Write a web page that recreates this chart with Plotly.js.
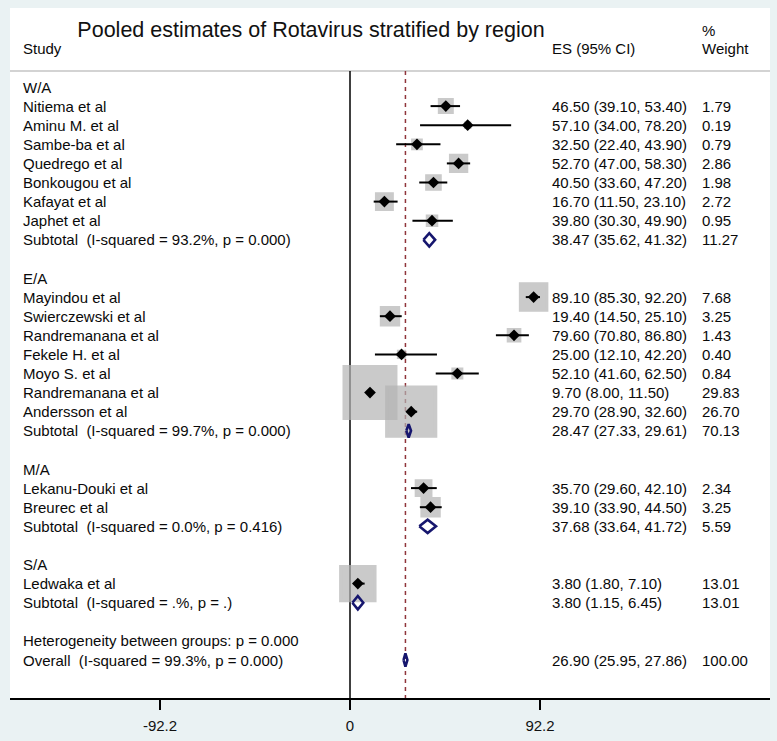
<!DOCTYPE html>
<html><head><meta charset="utf-8">
<script src="https://cdn.plot.ly/plotly-3.0.1.min.js"></script>
<style>html,body{margin:0;padding:0;background:#eaf2f3}</style>
</head><body><div id="chart" style="width:777px;height:741px"></div>
<script>
// ---------------- data ----------------
const regions = ['W/A', 'E/A', 'M/A', 'S/A'];
const studies = ['Nitiema et al', 'Aminu M. et al', 'Sambe-ba et al', 'Quedrego et al', 'Bonkougou et al', 'Kafayat et al', 'Japhet et al',
  'Mayindou et al', 'Swierczewski et al', 'Randremanana et al', 'Fekele H. et al', 'Moyo S. et al', 'Randremanana et al', 'Andersson et al',
  'Lekanu-Douki et al', 'Breurec et al',
  'Ledwaka et al'];
const studyRegion = ['W/A', 'W/A', 'W/A', 'W/A', 'W/A', 'W/A', 'W/A',
  'E/A', 'E/A', 'E/A', 'E/A', 'E/A', 'E/A', 'E/A',
  'M/A', 'M/A',
  'S/A'];
const es = [46.50, 57.10, 32.50, 52.70, 40.50, 16.70, 39.80,
  89.10, 19.40, 79.60, 25.00, 52.10, 9.70, 29.70,
  35.70, 39.10,
  3.80];
const ciLow = [39.10, 34.00, 22.40, 47.00, 33.60, 11.50, 30.30,
  85.30, 14.50, 70.80, 12.10, 41.60, 8.00, 28.90,
  29.60, 33.90,
  1.80];
const ciHigh = [53.40, 78.20, 43.90, 58.30, 47.20, 23.10, 49.90,
  92.20, 25.10, 86.80, 42.20, 62.50, 11.50, 32.60,
  42.10, 44.50,
  7.10];
const weights = [1.79, 0.19, 0.79, 2.86, 1.98, 2.72, 0.95,
  7.68, 3.25, 1.43, 0.40, 0.84, 29.83, 26.70,
  2.34, 3.25,
  13.01];
const subI2 = ['93.2%', '99.7%', '0.0%', '.%'];
const subP = ['0.000', '0.000', '0.416', '.'];
const subEs = [38.47, 28.47, 37.68, 3.80];
const subLow = [35.62, 27.33, 33.64, 1.15];
const subHigh = [41.32, 29.61, 41.72, 6.45];
const subWeight = [11.27, 70.13, 5.59, 13.01];
const hetP = '0.000';
const overallI2 = '99.3%';
const overallP = '0.000';
const overallEs = 26.90;
const overallLow = 25.95;
const overallHigh = 27.86;
const overallWeight = 100.00;
const tickVals = [-92.2, 0, 92.2];
const tickText = ['-92.2', '0', '92.2'];
const titleText = 'Pooled estimates of Rotavirus stratified by region';

// ---------------- layout helpers ----------------
const FONT = 'Liberation Sans, Arial, sans-serif';
const FS = 15;
const W = 777, H = 741;
const ML = 10, MR = 7, MT = 8, MB = 43;
const plotW = W - ML - MR;
const px2paper = p => (p - ML) / plotW;
const ROW0 = 87, ROWH = 19.1;
const pyToRow = p => (p - ROW0) / ROWH;
const xScale = 2.0607, x0px = 350;
const xRange = [(ML - x0px) / xScale, (W - MR - x0px) / xScale];
const yRange = [pyToRow(H - MB), pyToRow(MT)];
const headerRow = pyToRow(71);
const colLabel = px2paper(21), colES = px2paper(550), colW = px2paper(700);

const fmt = v => v.toFixed(2);
const esText = (e, l, h) => fmt(e) + ' (' + fmt(l) + ', ' + fmt(h) + ')';
const NB = '\u00a0';

// assign rows
const annotations = [];
const txt = (x, y, t) => annotations.push({xref: 'paper', yref: 'y', x: x, y: y, text: t, showarrow: false,
  xanchor: 'left', yanchor: 'middle', font: {family: FONT, size: FS, color: '#0a0a0a'}});

const studyRow = new Array(studies.length);
const subRow = [];
let r = 0;
regions.forEach((reg, gi) => {
  txt(colLabel, r, reg);
  r++;
  studies.forEach((s, i) => {
    if (studyRegion[i] === reg) {
      studyRow[i] = r;
      txt(colLabel, r, s);
      txt(colES, r, esText(es[i], ciLow[i], ciHigh[i]));
      txt(colW, r, fmt(weights[i]));
      r++;
    }
  });
  subRow.push(r);
  txt(colLabel, r, 'Subtotal' + NB + ' (I-squared = ' + subI2[gi] + ', p = ' + subP[gi] + ')');
  txt(colES, r, esText(subEs[gi], subLow[gi], subHigh[gi]));
  txt(colW, r, fmt(subWeight[gi]));
  r += 2;
});
txt(colLabel, r, 'Heterogeneity between groups: p = ' + hetP);
const overallRow = r + 1;
txt(colLabel, overallRow, 'Overall' + NB + ' (I-squared = ' + overallI2 + ', p = ' + overallP + ')');
txt(colES, overallRow, esText(overallEs, overallLow, overallHigh));
txt(colW, overallRow, fmt(overallWeight));

// headers
txt(colLabel, pyToRow(48), 'Study');
txt(colES, pyToRow(48), 'ES (95% CI)');
txt(colW, pyToRow(48), 'Weight');
txt(colW, pyToRow(30), '%');

// ---------------- traces ----------------
const boxTrace = {
  type: 'scatter', mode: 'markers', x: es, y: studyRow, hoverinfo: 'skip', cliponaxis: false,
  marker: {symbol: 'square', size: weights.map(w => 9.46 * Math.sqrt(w)), color: '#b4b4b4',
    line: {color: '#b4b4b4', width: 3.3}}
};
const ciTrace = {
  type: 'scatter', mode: 'markers', x: es, y: studyRow, hoverinfo: 'skip', cliponaxis: false,
  marker: {symbol: 'diamond', size: 9, color: '#000'},
  error_x: {type: 'data', symmetric: false, array: ciHigh.map((h, i) => h - es[i]),
    arrayminus: ciLow.map((l, i) => es[i] - l), width: 0, thickness: 2, color: '#000'}
};
const DH = 0.35;
const dx = [], dy = [];
const addDiamond = (e, l, h, row) => {
  dx.push(l, e, h, e, l, null);
  dy.push(row, row - DH, row, row + DH, row, null);
};
subEs.forEach((e, i) => addDiamond(e, subLow[i], subHigh[i], subRow[i]));
addDiamond(overallEs, overallLow, overallHigh, overallRow);
const diamondTrace = {
  type: 'scatter', mode: 'lines', x: dx, y: dy, hoverinfo: 'skip', cliponaxis: false,
  line: {color: '#16166e', width: 2.6}
};

const layout = {
  width: W, height: H,
  margin: {l: ML, r: MR, t: MT, b: MB},
  paper_bgcolor: '#eaf2f3', plot_bgcolor: '#ffffff',
  showlegend: false,
  title: {text: titleText, font: {family: FONT, size: 21.5, color: '#111'},
    xref: 'container', yref: 'container', x: 311 / W, xanchor: 'center', y: 1 - 29 / H, yanchor: 'middle'},
  xaxis: {range: xRange, tickvals: tickVals, ticktext: tickText, ticks: 'outside', ticklen: 10, tickwidth: 2,
    tickcolor: '#000', showline: true, linewidth: 2, linecolor: '#000', showgrid: false, zeroline: false,
    ticklabelstandoff: 3,
    tickfont: {family: FONT, size: FS, color: '#111'}, fixedrange: true},
  yaxis: {range: yRange, visible: false, showgrid: false, zeroline: false, fixedrange: true},
  shapes: [
    {type: 'line', xref: 'paper', yref: 'y', x0: 0, x1: 1, y0: headerRow, y1: headerRow,
      line: {color: '#c4c4c4', width: 1.5}, layer: 'below'},
    {type: 'line', xref: 'x', yref: 'y', x0: 0, x1: 0, y0: headerRow, y1: yRange[0],
      line: {color: '#000', width: 1.5}, layer: 'below'},
    {type: 'line', xref: 'x', yref: 'y', x0: overallEs, x1: overallEs, y0: headerRow, y1: yRange[0],
      line: {color: '#90353b', width: 1.5, dash: '4px,4px'}, layer: 'below'}
  ],
  annotations: annotations
};

Plotly.newPlot('chart', [boxTrace, ciTrace, diamondTrace], layout, {displayModeBar: false, staticPlot: true});
</script>
</body></html>
